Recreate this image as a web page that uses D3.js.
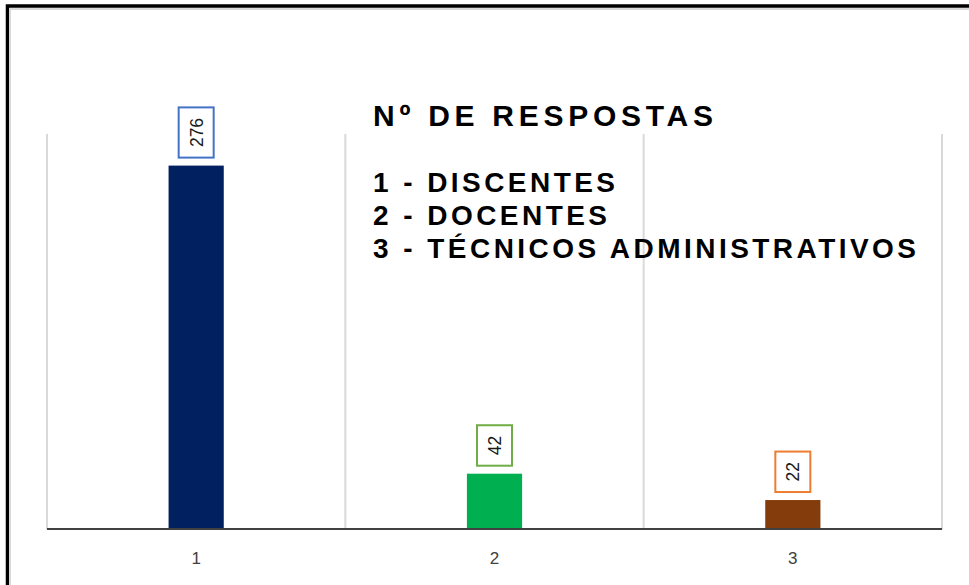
<!DOCTYPE html>
<html>
<head>
<meta charset="utf-8">
<script src="https://cdn.jsdelivr.net/npm/d3@7"></script>
<style>
  body { margin: 0; background: #fff; }
  svg { display: block; font-family: "Liberation Sans", Arial, sans-serif; }
</style>
</head>
<body>
<script>
var w = 969;
var h = 585;

// data
var categories = ["1", "2", "3"];
var values = [276, 42, 22];
var titleText = "Nº DE RESPOSTAS";
var legendLines = ["1 - DISCENTES", "2 - DOCENTES", "3 - TÉCNICOS ADMINISTRATIVOS"];

var barColors = ["#002060", "#00B050", "#843C0C"];
var boxColors = ["#4472C4", "#70AD47", "#ED7D31"];

var svg = d3.select("body")
  .append("svg")
  .attr("width", w)
  .attr("height", h);

// outer frame (black) and chart area border (grey)
svg.append("rect")
  .attr("x", 7.5).attr("y", 6)
  .attr("width", 1200).attr("height", 1200)
  .attr("fill", "none")
  .attr("stroke", "#000")
  .attr("stroke-width", 3.5);

svg.append("rect")
  .attr("x", 10).attr("y", 9)
  .attr("width", 1200).attr("height", 1200)
  .attr("fill", "none")
  .attr("stroke", "#d9d9d9")
  .attr("stroke-width", 2);

var plotLeft = 47, plotRight = 942, plotTop = 134, plotBase = 529;

var xScale = d3.scaleBand()
  .domain(categories)
  .range([plotLeft, plotRight])
  .paddingInner(0)
  .paddingOuter(0);

var yScale = d3.scaleLinear()
  .domain([0, 300])
  .range([plotBase, plotTop]);

// vertical category gridlines
var gridX = categories.map(function(c) { return xScale(c); });
gridX.push(plotRight);
svg.append("g").selectAll("line")
  .data(gridX)
  .enter()
  .append("line")
  .attr("x1", function(d) { return d; })
  .attr("x2", function(d) { return d; })
  .attr("y1", yScale(300))
  .attr("y2", plotBase)
  .attr("stroke", "#d9d9d9")
  .attr("stroke-width", 2);

var barW = xScale.bandwidth() * 0.185;

svg.append("g").selectAll("rect")
  .data(values)
  .enter()
  .append("rect")
  .attr("x", function(d, i) { return xScale(categories[i]) + xScale.bandwidth() / 2 - barW / 2; })
  .attr("y", function(d) { return yScale(d); })
  .attr("width", barW)
  .attr("height", function(d) { return plotBase - yScale(d); })
  .attr("fill", function(d, i) { return barColors[i]; });

// baseline
svg.append("line")
  .attr("x1", plotLeft).attr("x2", plotRight)
  .attr("y1", plotBase).attr("y2", plotBase)
  .attr("stroke", "#404040")
  .attr("stroke-width", 2);

// x axis labels
svg.append("g").selectAll("text")
  .data(categories)
  .enter()
  .append("text")
  .attr("x", function(d) { return xScale(d) + xScale.bandwidth() / 2; })
  .attr("y", 564)
  .attr("text-anchor", "middle")
  .attr("font-size", 17)
  .attr("fill", "#404040")
  .text(function(d) { return d; });

// data labels: rotated text in coloured boxes
var lab = svg.append("g").selectAll("g")
  .data(values)
  .enter()
  .append("g");

lab.each(function(d, i) {
  var g = d3.select(this);
  var cx = xScale(categories[i]) + xScale.bandwidth() / 2;
  var t = g.append("text")
    .attr("font-size", 17.5)
    .attr("fill", "#1a1a1a")
    .attr("text-anchor", "middle")
    .attr("dominant-baseline", "central")
    .text(d);
  var len = t.node().getComputedTextLength();
  var boxH = len + 21;
  var boxW = 35;
  var bottom = yScale(d) - 8;
  g.insert("rect", "text")
    .attr("x", cx - boxW / 2)
    .attr("y", bottom - boxH)
    .attr("width", boxW)
    .attr("height", boxH)
    .attr("fill", "#fff")
    .attr("stroke", boxColors[i])
    .attr("stroke-width", 2);
  t.attr("transform", "translate(" + (cx + 0.5) + "," + (bottom - boxH / 2) + ") rotate(-90)");
});

// title and legend text
svg.append("text")
  .attr("x", 373)
  .attr("y", 126)
  .attr("font-size", 30)
  .attr("font-weight", "bold")
  .attr("fill", "#000")
  .attr("textLength", 340)
  .attr("lengthAdjust", "spacing")
  .text(titleText);

var legendWidths = [242, 234, 543];
svg.append("g").selectAll("text")
  .data(legendLines)
  .enter()
  .append("text")
  .attr("x", 373)
  .attr("y", function(d, i) { return 192 + i * 33; })
  .attr("font-size", 28)
  .attr("font-weight", "bold")
  .attr("fill", "#000")
  .attr("textLength", function(d, i) { return legendWidths[i]; })
  .attr("lengthAdjust", "spacing")
  .text(function(d) { return d; });
</script>
</body>
</html>
